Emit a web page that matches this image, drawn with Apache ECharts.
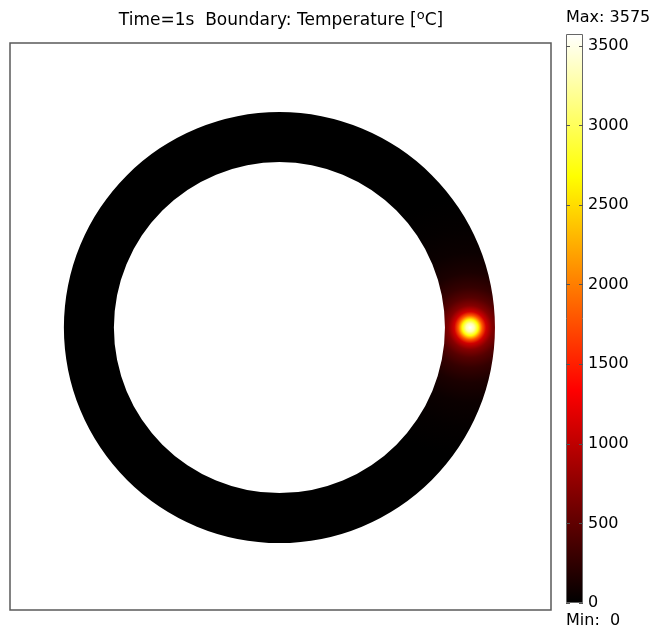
<!DOCTYPE html>
<html><head><meta charset="utf-8">
<script src="https://cdn.jsdelivr.net/npm/echarts@6/dist/echarts.min.js"></script>
<style>html,body{margin:0;padding:0;background:#fff}#c{width:652px;height:632px}</style>
</head><body><div id="c"></div>
<script>
// ---- text ----
const timeLabel = 'Time=1s';
const quantityLabel = 'Boundary: Temperature';
const unitLabel = 'C';
// ---- colour range ----
const tMin = 0;
const tMax = 3575;
const colorbarTicks = [0, 500, 1000, 1500, 2000, 2500, 3000, 3500];
// ---- ring geometry (data units, outer radius = 1) ----
const ringCenter = [0, 0];
const ringOuterRadius = 1.0;
const ringInnerRadius = 0.768;
// ---- hot spot ----
const hotSpot = [0.885, 0];
const profileDistance = [0, 0.019, 0.037, 0.056, 0.074, 0.102, 0.139, 0.186, 0.255, 0.348, 0.464, 0.60];
const profileTemp = [3575, 3300, 2700, 1800, 1100, 700, 450, 280, 140, 60, 20, 0];
// ---- "hot" colour map anchors ----
const cmapPos = [0, 0.375, 0.75, 1];
const cmapRGB = [[0, 0, 0], [255, 0, 0], [255, 255, 0], [255, 255, 255]];

function hot(t) {
  t = Math.max(0, Math.min(1, t));
  for (let i = 1; i < cmapPos.length; i++) {
    if (t <= cmapPos[i]) {
      const f = (t - cmapPos[i - 1]) / (cmapPos[i] - cmapPos[i - 1]);
      const a = cmapRGB[i - 1], b = cmapRGB[i];
      return 'rgb(' + a.map((v, k) => Math.round(v + (b[k] - v) * f)).join(',') + ')';
    }
  }
  return 'rgb(255,255,255)';
}
const norm = v => (v - tMin) / (tMax - tMin);
const FONT = 'DejaVu Sans';

const chart = echarts.init(document.getElementById('c'), null, {renderer: 'canvas'});

const barStops = [];
for (let i = 0; i <= 40; i++) barStops.push({offset: i / 40, color: hot(i / 40)});

chart.setOption({
  animation: false,
  backgroundColor: '#fff',
  grid: [
    {left: 10, top: 43, width: 541, height: 567, show: true, borderColor: '#5a5a5a', borderWidth: 1.5},
    {left: 566, top: 34, width: 17, height: 569}
  ],
  xAxis: [
    {gridIndex: 0, type: 'value', min: -1.25, max: 1.26, show: false},
    {gridIndex: 1, type: 'category', data: ['T'], show: false}
  ],
  yAxis: [
    {gridIndex: 0, type: 'value', min: -1.31, max: 1.32, show: false},
    {gridIndex: 1, type: 'value', min: tMin, max: tMax, position: 'right', z: 5,
     axisLine: {show: false}, splitLine: {show: false},
     axisTick: {show: true, inside: true, length: 4, customValues: colorbarTicks, lineStyle: {color: '#555'}},
     axisLabel: {customValues: colorbarTicks, margin: 5, color: '#000', fontFamily: FONT, fontSize: 16,
       formatter: v => String(v)}},
    {gridIndex: 1, type: 'value', min: tMin, max: tMax, position: 'left', z: 5,
     axisLine: {show: false}, splitLine: {show: false},
     axisTick: {show: true, inside: true, length: 4, customValues: colorbarTicks, lineStyle: {color: '#555'}},
     axisLabel: {show: false}}
  ],
  series: [
    {
      type: 'custom', xAxisIndex: 0, yAxisIndex: 0, clip: true,
      data: [[ringCenter[0], ringCenter[1], ringOuterRadius, ringInnerRadius]],
      renderItem: function (params, api) {
        const c = api.coord([api.value(0), api.value(1)]);
        const rO = api.size([api.value(2), 0])[0];
        const rI = api.size([api.value(3), 0])[0];
        const sp = api.coord(hotSpot);
        const dMax = profileDistance[profileDistance.length - 1];
        const rad = api.size([dMax, 0])[0];
        const stops = profileDistance.map((d, i) => ({offset: d / dMax, color: hot(norm(profileTemp[i]))}));
        return {
          type: 'sector',
          shape: {cx: c[0], cy: c[1], r: rO, r0: rI, startAngle: 0, endAngle: Math.PI * 2},
          style: {fill: new echarts.graphic.RadialGradient(sp[0], sp[1], rad, stops, true)}
        };
      }
    },
    {
      type: 'bar', xAxisIndex: 1, yAxisIndex: 1, barWidth: '100%',
      data: [tMax],
      itemStyle: {
        color: new echarts.graphic.LinearGradient(0, 1, 0, 0, barStops),
        borderColor: '#666', borderWidth: 1
      },
      silent: true
    }
  ],
  graphic: [
    {type: 'text', x: 281, y: 21, z: 10,
     style: {text: timeLabel + '  ' + quantityLabel + ' [{sup|o}' + unitLabel + ']',
       align: 'center', verticalAlign: 'middle', fill: '#000',
       fontFamily: FONT, fontSize: 17,
       rich: {sup: {fontFamily: FONT, fontSize: 13, verticalAlign: 'top', padding: [0, 0, 11, 0]}}}},
    {type: 'text', x: 566, y: 18, z: 10,
     style: {text: 'Max: ' + tMax, align: 'left', verticalAlign: 'middle', fill: '#000', fontFamily: FONT, fontSize: 16}},
    {type: 'text', x: 566, y: 621, z: 10,
     style: {text: 'Min:  ' + tMin, align: 'left', verticalAlign: 'middle', fill: '#000', fontFamily: FONT, fontSize: 16}}
  ]
});
</script></body></html>
